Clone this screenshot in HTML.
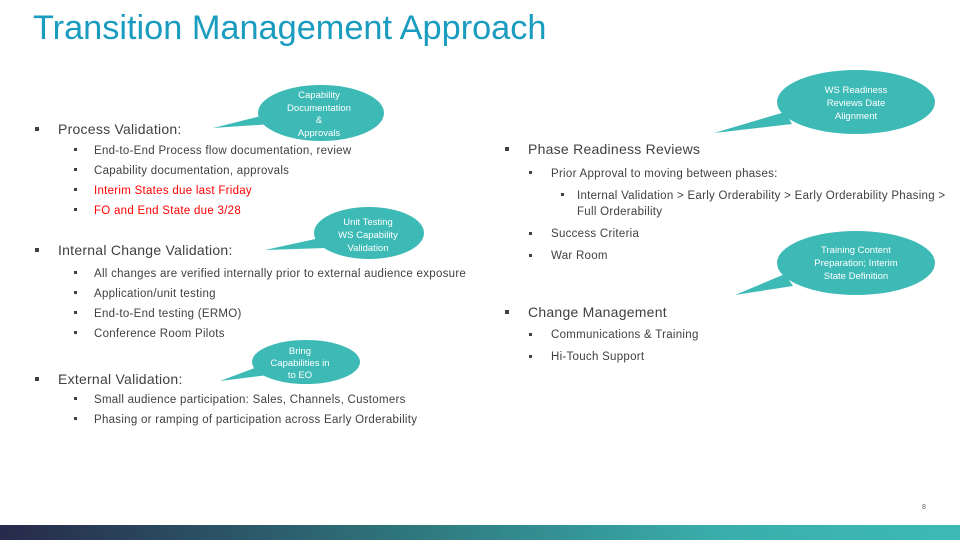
<!DOCTYPE html>
<html><head><meta charset="utf-8"><style>
body{margin:0;width:960px;height:540px;position:relative;overflow:hidden;background:#fff;font-family:"Liberation Sans",sans-serif;color:#404040}
.t{position:absolute;white-space:nowrap}
.h{font-size:14px;letter-spacing:0.25px}
.s{font-size:11.5px;letter-spacing:0.28px;margin-top:2px}
.b{position:absolute;width:4px;height:4px;background:#404040;margin-top:1px}
.r{color:#f00}
</style></head><body>
<div class="t" style="left:33px;top:9px;font-size:34.3px;color:#1a9bc0">Transition Management Approach</div>

<div class="b" style="left:35px;top:126px"></div><div class="t h" style="left:58px;top:121px">Process Validation:</div>
<div class="b" style="left:74px;top:147px;width:3px;height:3px"></div><div class="t s" style="left:94px;top:143px">End-to-End Process flow documentation, review</div>
<div class="b" style="left:74px;top:167px;width:3px;height:3px"></div><div class="t s" style="left:94px;top:163px">Capability documentation, approvals</div>
<div class="b" style="left:74px;top:187px;width:3px;height:3px"></div><div class="t s r" style="left:94px;top:183px">Interim States due last Friday</div>
<div class="b" style="left:74px;top:207px;width:3px;height:3px"></div><div class="t s r" style="left:94px;top:203px">FO and End State due 3/28</div>

<div class="b" style="left:35px;top:247px"></div><div class="t h" style="left:58px;top:242px">Internal Change Validation:</div>
<div class="b" style="left:74px;top:270px;width:3px;height:3px"></div><div class="t s" style="left:94px;top:266px">All changes are verified internally prior to external audience exposure</div>
<div class="b" style="left:74px;top:290px;width:3px;height:3px"></div><div class="t s" style="left:94px;top:286px">Application/unit testing</div>
<div class="b" style="left:74px;top:310px;width:3px;height:3px"></div><div class="t s" style="left:94px;top:306px">End-to-End testing (ERMO)</div>
<div class="b" style="left:74px;top:330px;width:3px;height:3px"></div><div class="t s" style="left:94px;top:326px">Conference Room Pilots</div>

<div class="b" style="left:35px;top:376px"></div><div class="t h" style="left:58px;top:371px">External Validation:</div>
<div class="b" style="left:74px;top:396px;width:3px;height:3px"></div><div class="t s" style="left:94px;top:392px">Small audience participation: Sales, Channels, Customers</div>
<div class="b" style="left:74px;top:416px;width:3px;height:3px"></div><div class="t s" style="left:94px;top:412px">Phasing or ramping of participation across Early Orderability</div>

<div class="b" style="left:505px;top:146px"></div><div class="t h" style="left:528px;top:141px">Phase Readiness Reviews</div>
<div class="b" style="left:529px;top:170px;width:3px;height:3px"></div><div class="t s" style="left:551px;top:166px">Prior Approval to moving between  phases:</div>
<div class="b" style="left:561px;top:192px;width:3px;height:3px"></div><div class="t s" style="left:577px;top:188px">Internal Validation &gt; Early Orderability &gt; Early Orderability Phasing &gt;</div>
<div class="t s" style="left:577px;top:204px">Full Orderability</div>
<div class="b" style="left:529px;top:231px;width:3px;height:3px"></div><div class="t s" style="left:551px;top:226px">Success Criteria</div>
<div class="b" style="left:529px;top:253px;width:3px;height:3px"></div><div class="t s" style="left:551px;top:248px">War Room</div>

<div class="b" style="left:505px;top:309px"></div><div class="t h" style="left:528px;top:304px">Change Management</div>
<div class="b" style="left:529px;top:332px;width:3px;height:3px"></div><div class="t s" style="left:551px;top:327px">Communications &amp; Training</div>
<div class="b" style="left:529px;top:354px;width:3px;height:3px"></div><div class="t s" style="left:551px;top:349px">Hi-Touch Support</div>

<svg width="960" height="540" style="position:absolute;left:0;top:0" font-family="Liberation Sans, sans-serif" font-size="9.5" fill="#fff" text-anchor="middle">
<g fill="#3dbab6">
<ellipse cx="321" cy="113" rx="63" ry="28"/><polygon points="213,128 265,115 272,124"/>
<ellipse cx="369" cy="233" rx="55" ry="26"/><polygon points="265,250 320,238 326,248"/>
<ellipse cx="306" cy="362" rx="54" ry="22"/><polygon points="220,381 260,366 268,375"/>
<ellipse cx="856" cy="102" rx="79" ry="32"/><polygon points="714,133 785,112 792,124"/>
<ellipse cx="856" cy="263" rx="79" ry="32"/><polygon points="735,295 785,274 793,286"/>
</g>
<text x="319" y="98">Capability</text><text x="319" y="111">Documentation</text><text x="319" y="123">&amp;</text><text x="319" y="136">Approvals</text>
<text x="368" y="225">Unit Testing</text><text x="368" y="238">WS Capability</text><text x="368" y="251">Validation</text>
<text x="300" y="354">Bring</text><text x="300" y="366">Capabilities in</text><text x="300" y="378">to EO</text>
<text x="856" y="93">WS Readiness</text><text x="856" y="106">Reviews Date</text><text x="856" y="119">Alignment</text>
<text x="856" y="253">Training Content</text><text x="856" y="266">Preparation; Interim</text><text x="856" y="279">State Definition</text>
<text x="924" y="509" font-size="7" fill="#595959">8</text>
<defs><linearGradient id="g" x1="0" x2="1"><stop offset="0" stop-color="#272a4a"/><stop offset="0.45" stop-color="#2f7b80"/><stop offset="0.75" stop-color="#3aaeac"/><stop offset="1" stop-color="#3dbab6"/></linearGradient></defs>
<rect x="0" y="525" width="960" height="15" fill="url(#g)"/>
</svg>
</body></html>
